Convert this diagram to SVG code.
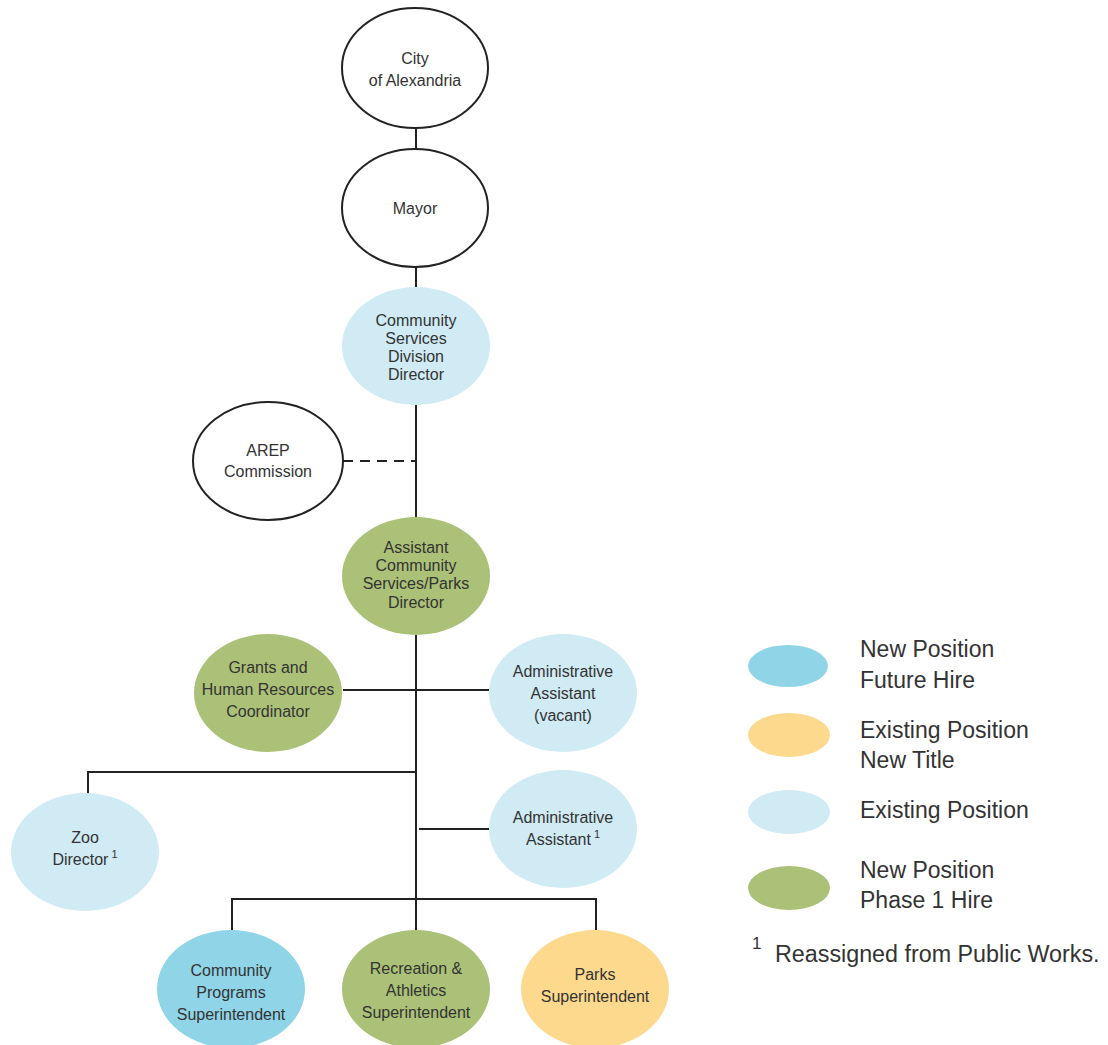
<svg xmlns="http://www.w3.org/2000/svg" width="1108" height="1045" viewBox="0 0 1108 1045">
<style>
.t{font-family:"Liberation Sans",Arial,sans-serif;font-size:16px;fill:#333;text-anchor:middle}
.lg{font-family:"Liberation Sans",Arial,sans-serif;font-size:23px;fill:#333}
.sup{font-size:11px}
.ln{stroke:#222;stroke-width:2;fill:none}
.out{fill:#fff;stroke:#222;stroke-width:2}
.fut{fill:#8fd4e7}
.ttl{fill:#fcd98d}
.ex{fill:#d0ebf4}
.ph{fill:#abc177}
</style>
<rect width="1108" height="1045" fill="#fff"/>
<g id="connectors">
<line class="ln" x1="416" y1="128" x2="416" y2="149"/>
<line class="ln" x1="416" y1="267" x2="416" y2="287"/>
<line class="ln" x1="416" y1="405" x2="416" y2="517"/>
<line class="ln" x1="343" y1="461" x2="416" y2="461" stroke-dasharray="10,7"/>
<line class="ln" x1="416" y1="635" x2="416" y2="930"/>
<line class="ln" x1="343" y1="690" x2="489" y2="690"/>
<polyline class="ln" points="416,772 88,772 88,794"/>
<line class="ln" x1="419" y1="829" x2="489" y2="829"/>
<polyline class="ln" points="232,930 232,899 596,899 596,930"/>
</g>
<g id="city"><ellipse class="out" cx="415" cy="68" rx="73" ry="60"/><text class="t" x="415" y="64">City</text><text class="t" x="415" y="86">of Alexandria</text></g>
<g id="mayor"><ellipse class="out" cx="415" cy="208" rx="73" ry="59"/><text class="t" x="415" y="214">Mayor</text></g>
<g id="csdd"><ellipse class="ex" cx="416" cy="346" rx="74" ry="59"/><text class="t" x="416" y="326">Community</text><text class="t" x="416" y="344">Services</text><text class="t" x="416" y="362">Division</text><text class="t" x="416" y="380">Director</text></g>
<g id="arep"><ellipse class="out" cx="268" cy="461" rx="75" ry="59"/><text class="t" x="268" y="456">AREP</text><text class="t" x="268" y="477">Commission</text></g>
<g id="acspd"><ellipse class="ph" cx="416" cy="576" rx="74" ry="59"/><text class="t" x="416" y="553">Assistant</text><text class="t" x="416" y="571">Community</text><text class="t" x="416" y="589">Services/Parks</text><text class="t" x="416" y="608">Director</text></g>
<g id="grants"><ellipse class="ph" cx="268" cy="693" rx="74" ry="59"/><text class="t" x="268" y="673">Grants and</text><text class="t" x="268" y="695">Human Resources</text><text class="t" x="268" y="717">Coordinator</text></g>
<g id="admin1"><ellipse class="ex" cx="563" cy="693" rx="74" ry="59"/><text class="t" x="563" y="677">Administrative</text><text class="t" x="563" y="699">Assistant</text><text class="t" x="563" y="721">(vacant)</text></g>
<g id="zoo"><ellipse class="ex" cx="85" cy="852" rx="74" ry="59"/><text class="t" x="85" y="843">Zoo</text><text class="t" x="85" y="865">Director<tspan class="sup" dx="3" dy="-7">1</tspan></text></g>
<g id="admin2"><ellipse class="ex" cx="563" cy="829" rx="74" ry="59"/><text class="t" x="563" y="823">Administrative</text><text class="t" x="563" y="845">Assistant<tspan class="sup" dx="3" dy="-7">1</tspan></text></g>
<g id="cps"><ellipse class="fut" cx="231" cy="989" rx="74" ry="59"/><text class="t" x="231" y="976">Community</text><text class="t" x="231" y="998">Programs</text><text class="t" x="231" y="1020">Superintendent</text></g>
<g id="ras"><ellipse class="ph" cx="416" cy="989" rx="74" ry="59"/><text class="t" x="416" y="974">Recreation &amp;</text><text class="t" x="416" y="996">Athletics</text><text class="t" x="416" y="1018">Superintendent</text></g>
<g id="ps"><ellipse class="ttl" cx="595" cy="989" rx="74" ry="59"/><text class="t" x="595" y="980">Parks</text><text class="t" x="595" y="1002">Superintendent</text></g>
<g id="legend">
<ellipse class="fut" cx="788" cy="666" rx="40" ry="21"/>
<text class="lg" x="860" y="657">New Position</text><text class="lg" x="860" y="688">Future Hire</text>
<ellipse class="ttl" cx="789" cy="735" rx="41" ry="22"/>
<text class="lg" x="860" y="738">Existing Position</text><text class="lg" x="860" y="768">New Title</text>
<ellipse class="ex" cx="789" cy="812" rx="41" ry="22"/>
<text class="lg" x="860" y="818">Existing Position</text>
<ellipse class="ph" cx="789" cy="888" rx="41" ry="22"/>
<text class="lg" x="860" y="878">New Position</text><text class="lg" x="860" y="908">Phase 1 Hire</text>
<text class="lg" x="752" y="949" style="font-size:17px">1</text>
<text class="lg" x="775" y="962" style="font-size:23.3px">Reassigned from Public Works.</text>
</g>
</svg>
